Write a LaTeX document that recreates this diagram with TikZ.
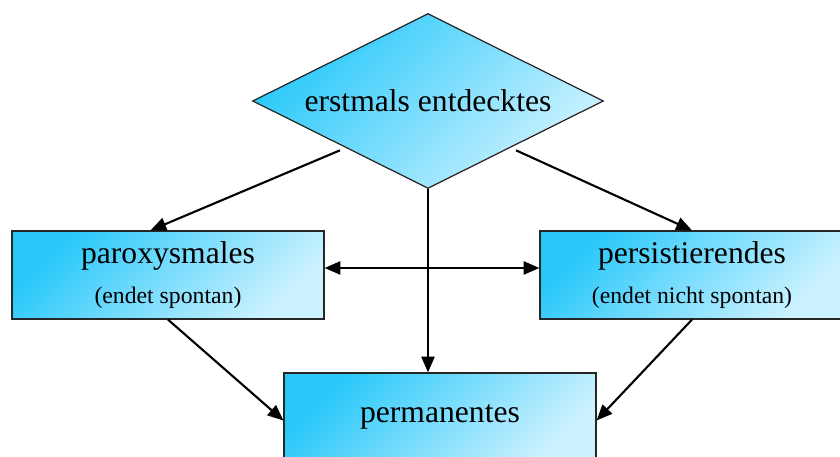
\documentclass[tikz,border=0pt]{standalone}
\usepackage{fontspec}
\setmainfont{Liberation Serif}
\usepackage{tikz}
\usetikzlibrary{
	shapes.geometric,
	arrows.meta
}

\definecolor{afdark}{RGB}{40,200,250}
\definecolor{aflight}{RGB}{205,242,255}

\tikzset{
	afill/.style={draw=black!85,line width=0.7pt,top color=afdark,bottom color=aflight,shading angle=45},
	abox/.style={afill,rectangle,minimum height=1.76cm,inner sep=0pt,align=center},
	aflow/.style={line width=1.2pt,-{Triangle[length=9pt,width=7.5pt]}}
}
\newcommand{\bigt}{\fontsize{18}{20}\selectfont}
\newcommand{\smallt}{\fontsize{13.5}{15}\selectfont}

\begin{document}
\begin{tikzpicture}[x=0.02cm,y=-0.02cm]
	\clip (0,0) rectangle (840,457);
	\useasboundingbox (0,0) rectangle (840,457);
	\draw
		node [afill,diamond,aspect=2,inner sep=0pt,minimum width=7.02cm,minimum height=3.5cm] at (428,101) (first) {\bigt erstmals entdecktes}
		node [abox,minimum width=6.24cm] at (168,275) (parox) {\bigt paroxysmales\\[9pt]\smallt (endet spontan)}
		node [abox,minimum width=6.08cm] at (692,275) (pers)  {\bigt persistierendes\\[9pt]\smallt (endet nicht spontan)}
		node [abox,minimum width=6.24cm] at (440,417) (perm)  {\bigt permanentes}
	;
	\draw[aflow] ([yshift=-3pt]first.south west) -- ([xshift=-10pt]parox.north);
	\draw[aflow] ([yshift=-3pt]first.south east) -- (pers.north);
	\draw[aflow] (first.south) -- (first.south |- perm.north);
	\draw[aflow,{Triangle[length=9pt,width=7.5pt]}-{Triangle[length=9pt,width=7.5pt]}]
		([yshift=4pt]parox.east) -- ([yshift=4pt]pers.west);
	\draw[aflow] (parox.south) -- ([yshift=-2pt]perm.west);
	\draw[aflow] (pers.south) -- ([yshift=-2pt]perm.east);
\end{tikzpicture}
\end{document}
